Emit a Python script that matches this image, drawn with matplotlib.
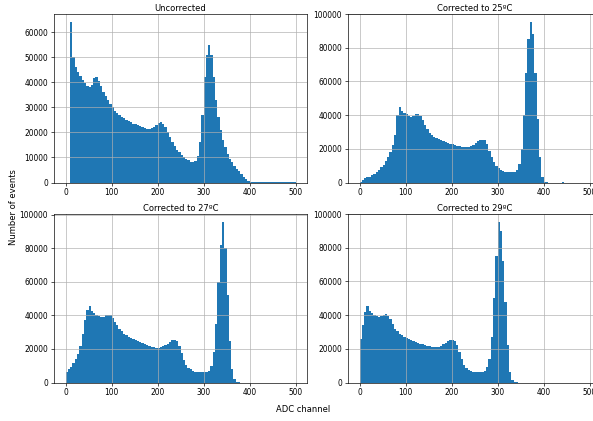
import numpy as np
import matplotlib
matplotlib.use('Agg')
import matplotlib.pyplot as plt

# bin edges: 5 ADC channels per bin, 0..500
edges = np.arange(0, 505, 5)

# counts per bin in thousands of events
uncorrected = [
    0, 0, 64, 50, 46, 44, 42.5, 41, 39.5, 38.3,
    38.2, 39, 41.5, 42, 40.5, 38.5, 36, 34.5, 33, 31.5,
    30, 28.5, 27.8, 27, 26.3, 25.7, 25, 24.5, 24, 23.5,
    23.2, 22.8, 22.4, 22, 21.7, 21.5, 21.5, 21.7, 22.2, 23,
    23.8, 24, 23.5, 22, 20, 18, 16, 14.5, 13, 12,
    11, 10.2, 9.5, 8.8, 8.3, 8, 8.5, 10.5, 16, 27,
    42, 51, 55, 51, 42, 33, 26, 21, 17, 14,
    11.5, 9.5, 8, 6.5, 5.5, 4.5, 3.5, 2.3, 1.3, 0.5,
    0.2, 0.1, 0.05, 0.04, 0.03, 0.03, 0.03, 0.03, 0.03, 0.03,
    0.03, 0.03, 0.03, 0.03, 0.03, 0.03, 0.03, 0.03, 0.03, 0.03,
]
corr25 = [
    0.5, 1.5, 2.5, 3, 3.5, 4.3, 5.3, 6.3, 7.5, 9,
    10.5, 12.5, 15, 18, 22, 28, 40, 45, 42.5, 41.5,
    40.5, 39.5, 39, 39.5, 40.5, 40.5, 39.5, 37, 34, 31.5,
    29.5, 28.3, 27.3, 26.5, 25.8, 25.2, 24.5, 24, 23.5, 23,
    22.6, 22.2, 21.8, 21.4, 21.1, 21, 21, 21.2, 21.7, 22.5,
    23.5, 24.5, 25.3, 25.5, 25, 23, 19, 15, 12, 10,
    8.5, 7.5, 7, 6.5, 6.2, 6.2, 6.3, 6.5, 7.5, 11,
    20, 40, 65, 85, 95.3, 88, 65, 38, 15, 3,
    0.5, 0.1, 0, 0, 0, 0, 0, 0, 0.05, 0,
    0, 0, 0, 0, 0, 0, 0, 0, 0, 0,
]
corr27 = [
    6.5, 8, 9.5, 11.5, 14, 17, 22, 29, 37, 43,
    45.5, 42.5, 41.5, 40.5, 39.5, 39, 39.3, 40, 40.5, 40,
    38.5, 36, 34, 32, 30.5, 29.2, 28.2, 27.3, 26.5, 25.8,
    25.2, 24.6, 24, 23.5, 22.8, 22.3, 21.8, 21.4, 21, 20.8,
    20.8, 21, 21.5, 22.2, 23.2, 24.3, 25.2, 25.5, 24.5, 21.5,
    17.5, 13.5, 10.5, 8.8, 7.8, 7, 6.5, 6.2, 6, 6,
    6, 6.3, 7, 10, 18, 35, 60, 82, 95.7, 80,
    52, 25, 8, 2, 0.3, 0.05, 0, 0, 0, 0,
    0, 0, 0, 0, 0, 0, 0, 0, 0, 0,
    0, 0, 0, 0, 0, 0, 0, 0, 0, 0,
]
corr29 = [
    26, 34, 42, 45.5, 42.5, 41, 40, 39.5, 39, 39.5,
    40.3, 40.5, 39.5, 37.5, 34.5, 32, 30.3, 29, 28.2, 27.3,
    26.5, 25.8, 25.3, 24.8, 24.2, 23.6, 23.1, 22.6, 22.2, 21.8,
    21.4, 21.1, 20.9, 21, 21.3, 21.9, 22.6, 23.4, 24.4, 25.2,
    25.5, 24.5, 22, 18, 14, 10.5, 8.5, 7.3, 6.6, 6.2,
    6, 6, 6, 6.3, 7, 9, 14, 27, 50, 75,
    95.3, 90, 72, 48, 22, 6, 1.5, 0.3, 0.05, 0,
    0, 0, 0, 0, 0, 0, 0, 0, 0, 0,
    0, 0, 0, 0, 0, 0, 0, 0, 0, 0,
    0, 0, 0, 0, 0, 0, 0, 0, 0, 0,
]

titles = ['Uncorrected', 'Corrected to 25ºC', 'Corrected to 27ºC', 'Corrected to 29ºC']
series = [uncorrected, corr25, corr27, corr29]

fig = plt.figure(figsize=(593 / 60, 421 / 60), dpi=60)

# axes boxes in pixels (left, top, width, height)
boxes = [(54, 14, 253, 168.5), (348, 14, 253, 168.5),
         (54, 214, 253, 168.5), (348, 214, 253, 168.5)]

for (l, t, w, h), title, counts in zip(boxes, titles, series):
    ax = fig.add_axes([l / 593, 1 - (t + h) / 421, w / 593, h / 421])
    ax.hist(edges[:-1], bins=edges, weights=np.array(counts) * 1000,
            histtype='stepfilled', color='#1f77b4')
    ax.set_title(title, fontsize=10, pad=4)
    ax.tick_params(labelsize=9)
    ax.grid(True)

fig.text(303 / 593, 1 - 409 / 421, 'ADC channel', ha='center', va='center', fontsize=10)
fig.text(14 / 593, 1 - 207 / 421, 'Number of events', ha='center', va='center',
         rotation=90, fontsize=10)

fig.savefig('out.png', dpi=60)
